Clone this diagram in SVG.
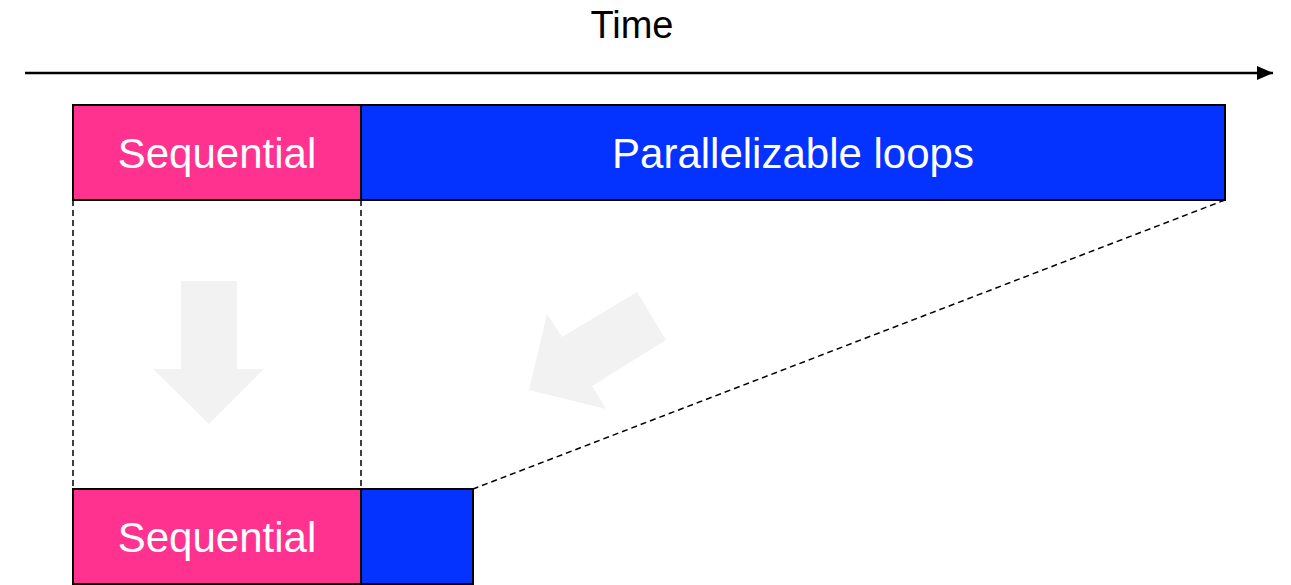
<svg xmlns="http://www.w3.org/2000/svg" width="1291" height="585" viewBox="0 0 1291 585">
  <defs>
    <style>
      .box { stroke: #000; stroke-width: 2; }
      .seq { fill: #ff338f; }
      .par { fill: #0433ff; }
      .label { font-family: "Liberation Sans", Arial, sans-serif; font-size: 42px; fill: #fff; text-anchor: middle; }
      .dash { fill: none; stroke: #000; stroke-width: 1.5; stroke-dasharray: 6 4; }
      .hint { fill: #f2f2f2; }
    </style>
    <marker id="arrowHead" markerWidth="16" markerHeight="14" refX="16" refY="7" orient="auto" markerUnits="userSpaceOnUse">
      <path d="M0,0 L16,7 L0,14 Z" fill="#000"/>
    </marker>
  </defs>

  <rect width="1291" height="585" fill="#fff"/>

  <!-- time axis -->
  <g id="time-axis">
    <line x1="25" y1="73" x2="1273" y2="73" stroke="#000" stroke-width="2.5" marker-end="url(#arrowHead)"/>
    <text x="632" y="38" font-family="Liberation Sans, Arial, sans-serif" font-size="38" fill="#000" text-anchor="middle">Time</text>
  </g>

  <!-- faint direction arrows -->
  <g id="shrink-arrows">
    <polygon class="hint" points="181,281 237,281 237,369 264,369 209,424 153,369 181,369"/>
    <polygon class="hint" points="637,292 666,340 592,386 606,409 529,390 547,314 562,337"/>
  </g>

  <!-- connectors -->
  <g id="connectors">
    <line class="dash" x1="73" y1="200" x2="73" y2="489"/>
    <line class="dash" x1="361" y1="200" x2="361" y2="489"/>
    <line class="dash" x1="1225" y1="200" x2="473" y2="489"/>
  </g>

  <!-- original run -->
  <g id="seq-top">
    <rect class="box seq" x="73" y="105" width="288" height="95"/>
    <text class="label" x="217" y="168">Sequential</text>
  </g>
  <g id="par-top">
    <rect class="box par" x="361" y="105" width="864" height="95"/>
    <text class="label" x="793" y="168">Parallelizable loops</text>
  </g>

  <!-- accelerated run -->
  <g id="seq-bottom">
    <rect class="box seq" x="73" y="489" width="288" height="95"/>
    <text class="label" x="217" y="552">Sequential</text>
  </g>
  <g id="par-bottom">
    <rect class="box par" x="361" y="489" width="112" height="95"/>
  </g>
</svg>
